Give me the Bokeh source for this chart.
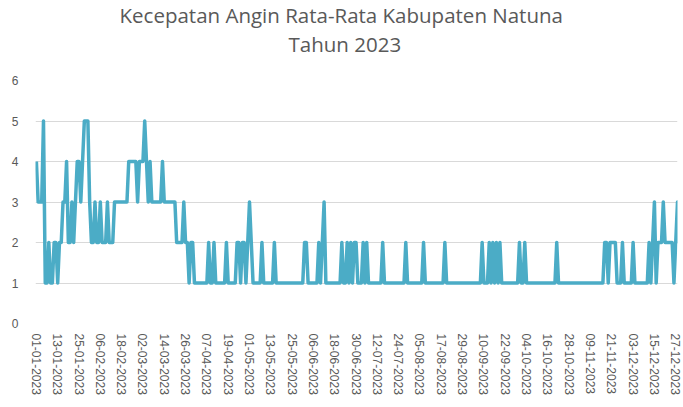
from bokeh.plotting import figure
from bokeh.models import FixedTicker, Title, ColumnDataSource
from bokeh.embed import file_html
from bokeh.resources import INLINE

# Daily average wind speed, Natuna 2023
wind = [
    # 01-01 .. 02-02
    4, 3, 3, 3, 5, 1, 1, 2, 1, 1, 2, 2, 1, 2, 2, 3, 3, 4, 2, 2, 3, 2, 3, 4, 4, 3, 4, 5, 5, 5, 3, 2, 2,
    # 03-02 .. 13-03
    3, 2, 2, 3, 2, 2, 2, 3, 2, 2, 2, 3, 3, 3, 3, 3, 3, 3, 3,
    4, 4, 4, 4, 4, 3, 4, 4, 4, 5, 4, 3, 4, 3, 3, 3, 3, 3, 3, 4,
    # 14-03 .. 19-04
    3, 3, 3, 3, 3, 3, 3, 2, 2, 2, 2, 3, 2, 2, 1, 2, 2,
    1, 1, 1, 1, 1, 1, 1, 1, 2, 1, 1, 2, 1, 1, 1, 1, 1, 1, 2, 1,
    # 20-04 .. 31-05
    1, 1, 1, 1, 2, 2, 1, 2, 2, 1, 2, 3, 2, 1, 1, 1, 1, 1, 2,
    1, 1, 1, 1, 1, 1, 2, 1, 1, 1, 1, 1, 1, 1, 1, 1, 1, 1, 1, 1, 1, 1, 1,
    # 01-06 .. 30-06
    2, 2, 1, 1, 1, 1, 1, 1, 2, 1, 2, 3, 1, 1, 1, 1, 1, 1, 1, 1, 1,
    2, 1, 1, 2, 1, 2, 1, 2, 2,
    # 01-07 .. 06-08
    1, 1, 1, 2, 1, 2, 1, 1, 1, 1, 1, 1, 1, 1, 2,
    1, 1, 1, 1, 1, 1, 1, 1, 1, 1, 1, 1, 2, 1, 1, 1, 1, 1, 1, 1, 1, 1,
    # 07-08 .. 11-09
    2, 1, 1, 1, 1, 1, 1, 1, 1, 1, 1, 1, 2, 1, 1, 1, 1, 1, 1, 1, 1, 1,
    1, 1, 1, 1, 1, 1, 1, 1, 1, 1, 1, 2, 1, 1, 1, 2,
    # 12-09 .. 19-10
    1, 2, 1, 2, 1, 2, 1, 1, 1, 1, 1, 1, 1, 1, 1, 1, 2, 1, 1, 2,
    1, 1, 1, 1, 1, 1, 1, 1, 1, 1, 1, 1, 1, 1, 1, 1, 1, 2,
    # 20-10 .. 19-11
    1, 1, 1, 1, 1, 1, 1, 1, 1, 1, 1, 1, 1, 1, 1, 1, 1, 1, 1, 1, 1, 1, 1, 1, 1, 1,
    2, 2, 1, 2, 2,
    # 20-11 .. 31-12
    2, 2, 1, 1, 1, 2, 1, 1, 1, 1, 1, 2, 1, 1, 1, 1, 1, 1, 1, 1,
    2, 1, 2, 3, 1, 2, 2, 2, 3, 2, 2, 2, 2, 2, 1, 2, 3, 2, 3, 3, 2, 2,
]
days = list(range(len(wind)))

tick_days = [0, 12, 24, 36, 48, 60, 72, 84, 96, 108, 120, 132, 144, 156, 168, 180,
             192, 204, 216, 228, 240, 252, 264, 276, 288, 300, 312, 324, 336, 348, 360]
tick_labels = ["01-01-2023", "13-01-2023", "25-01-2023", "06-02-2023", "18-02-2023",
               "02-03-2023", "14-03-2023", "26-03-2023", "07-04-2023", "19-04-2023",
               "01-05-2023", "13-05-2023", "25-05-2023", "06-06-2023", "18-06-2023",
               "30-06-2023", "12-07-2023", "24-07-2023", "05-08-2023", "17-08-2023",
               "29-08-2023", "10-09-2023", "22-09-2023", "04-10-2023", "16-10-2023",
               "28-10-2023", "09-11-2023", "21-11-2023", "03-12-2023", "15-12-2023",
               "27-12-2023"]
y_ticks = [0, 1, 2, 3, 4, 5, 6]

title_line1 = "Kecepatan Angin Rata-Rata Kabupaten Natuna"
title_line2 = "Tahun 2023"

src = ColumnDataSource(data=dict(day=days, wind=wind))

p = figure(width=681, height=405, x_range=(-0.5, 361.0), y_range=(0, 6),
           output_backend="svg", toolbar_location=None, title=None,
           min_border_left=35, min_border_right=4, min_border_top=80,
           min_border_bottom=82)
p.outline_line_color = None
p.background_fill_color = "white"
p.border_fill_color = "white"

t2 = Title(text=title_line2, align="left", offset=253, text_font="Open Sans",
           text_font_size="20.5px", text_font_style="normal", text_color="#595959",
           standoff=45)
t1 = Title(text=title_line1, align="left", offset=84, text_font="Open Sans",
           text_font_size="20.5px", text_font_style="normal", text_color="#595959",
           standoff=-46)
p.add_layout(t2, "above")
p.add_layout(t1, "above")

p.line("day", "wind", source=src, line_color="#4BACC6", line_width=3.5,
       line_join="round")

p.xgrid.grid_line_color = None
p.ygrid.grid_line_color = "#D9D9D9"
p.ygrid.grid_line_width = 1
p.yaxis.ticker = FixedTicker(ticks=y_ticks)
p.yaxis.axis_line_color = None
p.yaxis.major_tick_line_color = None
p.yaxis.minor_tick_line_color = None
p.yaxis.major_tick_out = 0
p.yaxis.minor_tick_out = 0
p.yaxis.major_label_standoff = 17
p.yaxis.major_label_text_font = "Liberation Sans"
p.yaxis.major_label_text_font_size = "12px"
p.yaxis.major_label_text_color = "#595959"

p.xaxis.ticker = FixedTicker(ticks=tick_days)
p.xaxis.major_label_overrides = {d: lab for d, lab in zip(tick_days, tick_labels)}
p.xaxis.major_label_orientation = "vertical"
p.xaxis.axis_line_color = None
p.xaxis.major_tick_line_color = None
p.xaxis.minor_tick_line_color = None
p.xaxis.major_tick_out = 0
p.xaxis.minor_tick_out = 0
p.xaxis.major_label_standoff = 10
p.xaxis.major_label_text_font = "Liberation Sans"
p.xaxis.major_label_text_font_size = "12px"
p.xaxis.major_label_text_color = "#595959"

open("out.html", "w").write(file_html(p, INLINE))
